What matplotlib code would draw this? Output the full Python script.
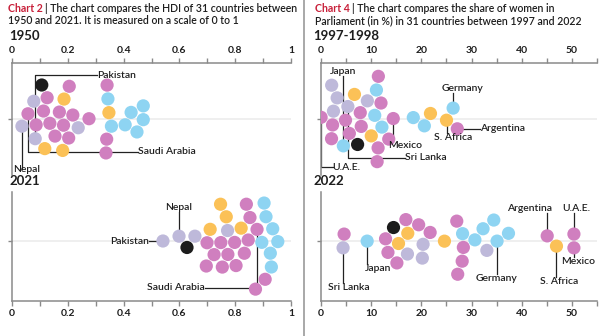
import numpy as np
import matplotlib
matplotlib.use("Agg")
import matplotlib.pyplot as plt
from matplotlib.lines import Line2D

# ---------------- data ----------------
# HDI (0-1); group: p=pink, y=yellow, l=lavender, b=light blue, k=black (India)
hdi_1950 = [0.036, 0.061, 0.086, 0.086, 0.097, 0.108, 0.115, 0.115, 0.115, 0.129,
            0.158, 0.176, 0.176, 0.183, 0.186, 0.197, 0.204, 0.215, 0.237, 0.276,
            0.337, 0.341, 0.341, 0.344, 0.348, 0.355, 0.405, 0.427, 0.448, 0.470, 0.470]
hdi_1950_grp = ["l", "p", "l", "l", "p", "k", "p", "y", "p", "p",
                "p", "p", "p", "y", "y", "p", "p", "p", "l", "p",
                "p", "p", "p", "b", "y", "b", "b", "b", "b", "b", "b"]
hdi_1950_lab = {0: "Nepal", 1: "Saudi Arabia", 2: "Pakistan"}

hdi_2021 = [0.541, 0.599, 0.627, 0.656, 0.698, 0.704, 0.710, 0.728, 0.749, 0.749,
            0.757, 0.767, 0.771, 0.778, 0.799, 0.799, 0.817, 0.833, 0.841, 0.841,
            0.853, 0.877, 0.877, 0.895, 0.904, 0.907, 0.913, 0.925, 0.927, 0.934, 0.946]
hdi_2021_grp = ["l", "l", "k", "l", "p", "p", "y", "p", "y", "p",
                "p", "y", "p", "l", "p", "p", "y", "p", "p", "p",
                "p", "p", "p", "b", "b", "p", "b", "b", "b", "b", "b"]
hdi_2021_lab = {0: "Pakistan", 1: "Nepal", 22: "Saudi Arabia"}

# Women in parliament (%)
wom_1997 = [0.2, 2.2, 2.2, 2.4, 2.4, 3.4, 4.4, 4.8, 5.4, 5.8,
            6.6, 7.2, 7.6, 8.0, 9.2, 10.2, 11.2, 11.2, 11.2, 11.4,
            11.4, 11.6, 11.8, 13.2, 14.4, 18.4, 20.6, 21.8, 25.1, 26.3, 27.1]
wom_1997_grp = ["p", "l", "p", "l", "p", "l", "b", "p", "l", "p",
                "y", "k", "p", "p", "l", "y", "b", "b", "p", "p",
                "p", "p", "b", "p", "p", "b", "b", "y", "y", "b", "p"]
wom_1997_lab = {0: "U.A.E.", 6: "Japan", 8: "Sri Lanka", 24: "Mexico",
                28: "S. Africa", 29: "Germany", 30: "Argentina"}

wom_2022 = [4.4, 4.6, 9.2, 13.0, 13.4, 14.4, 15.2, 15.6, 17.0, 17.0,
            17.2, 19.4, 20.2, 20.4, 21.6, 24.6, 27.1, 27.3, 28.1, 28.3,
            28.7, 30.3, 32.3, 33.1, 34.3, 35.1, 37.3, 45.1, 46.9, 50.4, 50.4]
wom_2022_grp = ["l", "p", "b", "p", "p", "k", "p", "y", "p", "l",
                "y", "p", "l", "l", "p", "y", "p", "p", "p", "b",
                "p", "b", "b", "l", "b", "b", "b", "p", "y", "p", "p"]
wom_2022_lab = {0: "Sri Lanka", 2: "Japan", 25: "Germany", 27: "Argentina",
                28: "S. Africa", 29: "U.A.E.", 30: "Mexico"}

hdi_ticks = [0, 0.2, 0.4, 0.6, 0.8, 1]
hdi_ticklabels = ["0", "0.2", "0.4", "0.6", "0.8", "1"]
wom_ticks = [0, 10, 20, 30, 40, 50]
wom_ticklabels = ["0", "10", "20", "30", "40", "50"]

# ---------------- style ----------------
W, H, DPI = 603, 336, 100
COL = {"p": "#D07FBF", "y": "#FBC157", "l": "#BEB9DA", "b": "#8ED4F2", "k": "#1C1C1C"}
SPINE = "#8A8A8A"
TXT = "#1E1E1E"
RED = "#C8203A"
FONT = ["Lato", "DejaVu Sans"]
plt.rcParams["font.family"] = FONT
R = 6.6  # dot radius in px

fig = plt.figure(figsize=(W / DPI, H / DPI), dpi=DPI)


def px_axes(x0, x1, y0, y1):
    return fig.add_axes([x0 / W, 1 - y1 / H, (x1 - x0) / W, (y1 - y0) / H])


def swarm(ax, xs, sx=1.0, sy=0.025):
    """Force-directed beeswarm layout (x pulled to value, y to centre, no overlap)."""
    xs = np.asarray(xs, float)
    pts = ax.transData.transform(np.column_stack([xs, np.zeros_like(xs)]))
    tx = pts[:, 0]
    y0 = pts[0, 1]
    n = len(xs)
    k = np.arange(n)
    P = np.column_stack([tx + 0.3 * np.cos(k * 2.39996), 2.0 * np.sin(k * 2.39996)])
    V = np.zeros_like(P)
    rr = 2 * R + 0.6
    alpha, decay = 1.0, 1 - 0.001 ** (1 / 300)
    for _ in range(320):
        alpha += (0 - alpha) * decay
        V[:, 0] += (tx - P[:, 0]) * sx * alpha
        V[:, 1] += (0 - P[:, 1]) * sy * alpha
        for _ in range(3):
            for i in range(n):
                for j in range(i + 1, n):
                    d = (P[i] + V[i]) - (P[j] + V[j])
                    l2 = d @ d
                    if l2 < rr * rr:
                        l = np.sqrt(l2) if l2 > 1e-9 else 1e-3
                        f = (rr - l) / l * 0.5
                        V[i] += d * f
                        V[j] -= d * f
        P += V
        V *= 0.6
    disp = np.column_stack([P[:, 0], y0 + P[:, 1]])
    return ax.transData.inverted().transform(disp)


def setup(ax, xlim, ylim, ticks, labels, minor, top):
    ax.set_xlim(*xlim)
    ax.set_ylim(*ylim)
    ax.set_facecolor("none")
    for s in ["right", "bottom" if top else "top"]:
        ax.spines[s].set_visible(False)
    for s in ["left", "top" if top else "bottom"]:
        ax.spines[s].set_color(SPINE)
        ax.spines[s].set_linewidth(1.1)
    ax.set_xticks(minor, minor=True)
    ax.set_xticks(ticks)
    ax.set_xticklabels(labels)
    ax.set_yticks([0])
    ax.set_yticklabels([])
    if top:
        ax.xaxis.tick_top()
    ax.tick_params(axis="x", which="both", length=3.5, width=1, color=SPINE,
                   labelsize=7.5, labelcolor=TXT, pad=2)
    ax.tick_params(axis="y", length=3, width=1, color=SPINE)
    for t in ax.get_xticklabels():
        t.set_fontweight("bold")
    ax.axhline(0, color="#ECECEC", lw=1.2, zorder=0)


def draw(ax, xs, grp):
    xy = swarm(ax, xs)
    for g in ["b", "l", "y", "p", "k"]:
        idx = [i for i, c in enumerate(grp) if c == g]
        ax.scatter(xy[idx, 0], xy[idx, 1], s=(2 * R * 72 / DPI) ** 2,
                   color=COL[g], edgecolors="none", zorder=3 if g != "k" else 4)
    return xy


def annotate(ax, xy, text, lx, ly, ha, va, mode):
    x, y = xy
    kw = dict(color="#222222", lw=0.9, zorder=2)
    if mode == "v":
        ax.plot([x, x], [y, ly], **kw)
        tx, ty = (x if lx is None else lx), ly
    elif mode == "vh":
        ax.plot([x, x, lx], [y, ly, ly], **kw)
        tx, ty = lx, ly
    else:
        ax.plot([x, lx], [y, y], **kw)
        tx, ty = lx, y
    ax.text(tx, ty, text, ha=ha, va=va, fontsize=7.5, color=TXT,
            fontweight="semibold", zorder=5)


# ---------------- HDI panels ----------------
hdi_minor = np.arange(0, 1.01, 0.1)
a1 = px_axes(12, 291, 63, 175)
setup(a1, (0, 1), (-56, 56), hdi_ticks, hdi_ticklabels, hdi_minor, True)
p1 = draw(a1, hdi_1950, hdi_1950_grp)

a2 = px_axes(12, 291, 192, 301)
setup(a2, (0, 1), (-60, 49), hdi_ticks, hdi_ticklabels, hdi_minor, False)
p2 = draw(a2, hdi_2021, hdi_2021_grp)

# ---------------- Women panels ----------------
wom_minor = np.arange(0, 56, 5)
a3 = px_axes(321, 597, 63, 175)
setup(a3, (0, 55), (-56, 56), wom_ticks, wom_ticklabels, wom_minor, True)
p3 = draw(a3, wom_1997, wom_1997_grp)

a4 = px_axes(321, 597, 192, 301)
setup(a4, (0, 55), (-60, 49), wom_ticks, wom_ticklabels, wom_minor, False)
p4 = draw(a4, wom_2022, wom_2022_grp)

# ---------------- annotations ----------------
L = hdi_1950_lab
annotate(a1, p1[2], L[2], 0.305, 44, "left", "center", "vh")
annotate(a1, p1[0], L[0], 0.005, -50, "left", "center", "v")
annotate(a1, p1[1], L[1], 0.452, -33, "left", "center", "vh")

L = hdi_2021_lab
annotate(a2, p2[0], L[0], 0.49, None, "right", "center", "h")
annotate(a2, p2[1], L[1], None, 29, "center", "bottom", "v")
annotate(a2, p2[22], L[22], 0.69, -47, "right", "center", "vh")

L = wom_1997_lab
annotate(a3, p3[0], L[0], 2.3, -48, "left", "center", "vh")
annotate(a3, p3[6], L[6], None, 43, "center", "bottom", "v")
annotate(a3, p3[8], L[8], 16.8, -39, "left", "center", "vh")
annotate(a3, p3[24], L[24], 13.4, -22, "left", "top", "v")
annotate(a3, p3[28], L[28], 26.4, -14, "center", "top", "v")
annotate(a3, p3[29], L[29], 28.1, 26, "center", "bottom", "v")
annotate(a3, p3[30], L[30], 31.6, None, "left", "center", "h")

L = wom_2022_lab
annotate(a4, p4[0], L[0], 5.6, -42, "center", "top", "v")
annotate(a4, p4[2], L[2], 11.3, -23, "center", "top", "v")
annotate(a4, p4[25], L[25], 34.9, -33, "center", "top", "v")
annotate(a4, p4[27], L[27], 41.6, 28, "center", "bottom", "v")
annotate(a4, p4[28], L[28], 47.5, -36, "center", "top", "v")
annotate(a4, p4[29], L[29], 50.9, 28, "center", "bottom", "v")
annotate(a4, p4[30], L[30], 51.3, -16, "center", "top", "v")

# ---------------- titles ----------------
def ftext(x, y, s, **kw):
    return fig.text(x / W, 1 - y / H, s, va="center", **kw)


def title(x, y, head, rest):
    t = ftext(x, y, head, fontsize=7.6, color=RED, fontweight="bold")
    fig.canvas.draw()
    bb = t.get_window_extent()
    ftext(bb.x1 + 2, y, "| " + rest, fontsize=7.6, color=TXT, fontweight="semibold")


title(8, 8, "Chart 2", "The chart compares the HDI of 31 countries between")
ftext(8, 21, "1950 and 2021. It is measured on a scale of 0 to 1",
      fontsize=7.6, color=TXT, fontweight="semibold")
title(315, 8, "Chart 4", "The chart compares the share of women in")
ftext(315, 21, "Parliament (in %) in 31 countries between 1997 and 2022",
      fontsize=7.6, color=TXT, fontweight="semibold")

for x, y, s in [(9, 36, "1950"), (9, 181, "2021"), (313, 36, "1997-1998"), (313, 181, "2022")]:
    ftext(x, y, s, fontsize=9.5, color=TXT, fontweight="bold")

fig.add_artist(Line2D([304 / W, 304 / W], [0, 1], color="#9A9A9A", lw=1.2))

fig.savefig("out.png", dpi=DPI)
